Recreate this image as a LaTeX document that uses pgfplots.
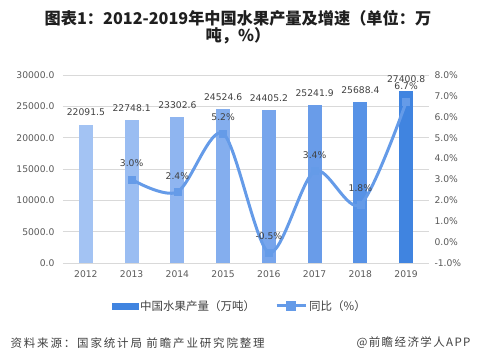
\documentclass[border=0pt]{standalone}
\usepackage{pgfplots}
\pgfplotsset{compat=1.18}
\usetikzlibrary{calc}
\usepackage{fontspec}
\setmainfont{DejaVu Sans}
\newfontfamily\cjk{Noto Sans CJK SC}
\definecolor{c1}{HTML}{A3C3F3}
\definecolor{c2}{HTML}{9ABDF2}
\definecolor{c3}{HTML}{8FB5F0}
\definecolor{c4}{HTML}{84AEEE}
\definecolor{c5}{HTML}{77A5EC}
\definecolor{c6}{HTML}{699CE9}
\definecolor{c7}{HTML}{5792E6}
\definecolor{c8}{HTML}{4084E0}
\definecolor{linec}{HTML}{659BE8}
\definecolor{gridc}{HTML}{D9D9D9}
\definecolor{txt}{HTML}{595959}
\definecolor{lbl}{HTML}{404040}
\pgfkeys{/pgf/number format/assume math mode=true}
\pgfplotsset{mybar/.style={fill=#1, draw=none, bar shift=0pt, bar width=14pt}}
\begin{document}
\begin{tikzpicture}
\begin{axis}[name=main, scale only axis, width=366pt, height=188pt,
  xmin=-0.5, xmax=7.5, ymin=0, ymax=30000, ytick={0,5000,...,30000},
  scaled y ticks=false,
  xtick={0,...,7}, xticklabels={2012,2013,2014,2015,2016,2017,2018,2019},
  ymajorgrids, grid style={gridc, line width=0.7pt},
  axis line style={draw=none}, major tick length=0pt,
  ticklabel style={font=\fontsize{9.2}{10}\selectfont, text=txt},
  xticklabel style={yshift=-4pt},
  yticklabel style={xshift=-5pt, /pgf/number format/fixed, /pgf/number format/fixed zerofill, /pgf/number format/precision=1, /pgf/number format/1000 sep={}},
  ybar, clip=false,
  nodes near coords={\pgfmathprintnumber[fixed,fixed zerofill,precision=1,1000 sep={}]{\pgfplotspointmeta}},
  nodes near coords style={font=\fontsize{9.2}{10}\selectfont, text=lbl, anchor=center, yshift=12pt, inner sep=0pt},
]
\addplot[mybar=c1] coordinates {(0,22091.5)};
\addplot[mybar=c2] coordinates {(1,22748.1)};
\addplot[mybar=c3] coordinates {(2,23302.6)};
\addplot[mybar=c4] coordinates {(3,24524.6)};
\addplot[mybar=c5] coordinates {(4,24405.2)};
\addplot[mybar=c6] coordinates {(5,25241.9)};
\addplot[mybar=c7] coordinates {(6,25688.4)};
\addplot[mybar=c8] coordinates {(7,27400.8)};
\end{axis}
\begin{axis}[scale only axis, width=366pt, height=188pt,
  xmin=-0.5, xmax=7.5, ymin=-1, ymax=8, ytick={-1,0,1,2,3,4,5,6,7,8},
  yticklabels={-1.0\%,0.0\%,1.0\%,2.0\%,3.0\%,4.0\%,5.0\%,6.0\%,7.0\%,8.0\%},
  axis y line*=right, axis x line=none, axis line style={draw=none}, major tick length=0pt,
  ticklabel style={font=\fontsize{9.2}{10}\selectfont, text=txt},
  yticklabel style={xshift=2pt},
  clip=false,
  legend style={font=\cjk\fontsize{11.5}{12}\selectfont, text=lbl, draw=none, fill=none, legend columns=2,
    at={(0.483,-0.228)}, anchor=center, /tikz/every even column/.append style={column sep=18pt}},
  legend cell align=left,
]
\addlegendimage{legend image code/.code={\fill[c8] (0pt,-3pt) rectangle (26pt,3pt);}}
\addlegendentry{中国水果产量（万吨）}
\addplot[linec, line width=3pt, smooth, mark=square*, mark size=3.5pt, mark options={line width=0.4pt, fill=linec},
  nodes near coords, point meta=explicit symbolic,
  nodes near coords style={font=\fontsize{9.2}{10}\selectfont, text=lbl, anchor=center, yshift=16pt, inner sep=0pt},
  legend image code/.code={\draw[linec, line width=3pt] (0pt,0pt) -- (29pt,0pt); \fill[linec] (11pt,-3.5pt) rectangle (18pt,3.5pt);}]
  coordinates {(1,3.0)[3.0\%] (2,2.4)[2.4\%] (3,5.2)[5.2\%] (4,-0.5)[-0.5\%] (5,3.4)[3.4\%] (6,1.8)[1.8\%] (7,6.7)[6.7\%]};
\addlegendentry{同比（\%）}
\end{axis}
\coordinate (O) at ($(main.south west)+(-63pt,-100pt)$);
\node[font=\cjk\bfseries\fontsize{16.2}{15.5}\selectfont, align=center, text=black!88] at ($(O)+(238pt,335.5pt)$) {图表1：2012-2019年中国水果产量及增速（单位：万\\吨，\%）};
\node[anchor=west, font=\cjk\fontsize{11.5}{12}\selectfont\addfontfeature{LetterSpace=16}, text=lbl] at ($(O)+(7pt,20pt)$) {资料来源：国家统计局 前瞻产业研究院整理};
\node[anchor=east, font=\cjk\fontsize{11.5}{12}\selectfont\addfontfeature{LetterSpace=12}, text=lbl] at ($(O)+(474pt,20pt)$) {@前瞻经济学人APP};
\pgfresetboundingbox
\path[use as bounding box] (O) rectangle ($(O)+(477pt,363pt)$);
\end{tikzpicture}
\end{document}
